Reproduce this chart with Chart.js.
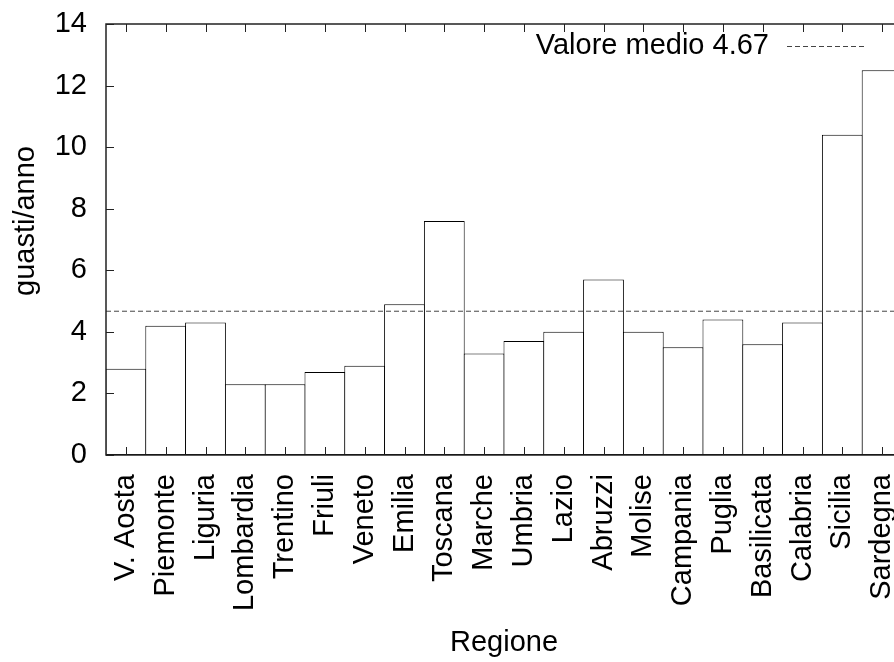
<!DOCTYPE html>
<html>
<head>
<meta charset="utf-8">
<script src="https://cdn.jsdelivr.net/npm/chart.js@4/dist/chart.umd.min.js"></script>
<style>
  html, body { margin: 0; padding: 0; background: #fff; overflow: hidden; }
  #box { width: 920px; height: 662px; }
</style>
</head>
<body>
<div id="box"><canvas id="myChart"></canvas></div>
<script>
// dati
const regioni = ['V. Aosta', 'Piemonte', 'Liguria', 'Lombardia', 'Trentino', 'Friuli', 'Veneto',
  'Emilia', 'Toscana', 'Marche', 'Umbria', 'Lazio', 'Abruzzi', 'Molise', 'Campania', 'Puglia',
  'Basilicata', 'Calabria', 'Sicilia', 'Sardegna'];
const guasti = [2.8, 4.2, 4.3, 2.3, 2.3, 2.7, 2.9, 4.9, 7.6, 3.3, 3.7, 4.0, 5.7, 4.0, 3.5, 4.4,
  3.6, 4.3, 10.4, 12.5];
const valoreMedio = 4.67;
const yTicks = [0, 2, 4, 6, 8, 10, 12, 14];

const FONT = 'Liberation Sans, Arial, Helvetica, sans-serif';
const FSIZE = 29;

// tacche interne, cornice, legenda e titolo asse y (stile gnuplot)
const cornice = {
  id: 'cornice',
  afterDatasetsDraw(chart) {
    const { ctx, chartArea: a, scales } = chart;
    const tl = 8;
    ctx.save();
    ctx.strokeStyle = '#222';
    ctx.lineWidth = 1;
    ctx.beginPath();
    regioni.forEach((r, i) => {
      const x = Math.round(scales.x.getPixelForValue(i)) + 0.5;
      ctx.moveTo(x, a.bottom); ctx.lineTo(x, a.bottom - tl);
      ctx.moveTo(x, a.top); ctx.lineTo(x, a.top + tl);
    });
    yTicks.forEach(v => {
      const y = Math.round(scales.y.getPixelForValue(v)) + 0.5;
      ctx.moveTo(a.left, y); ctx.lineTo(a.left + tl, y);
      ctx.moveTo(a.right, y); ctx.lineTo(a.right - tl, y);
    });
    ctx.stroke();
    ctx.lineWidth = 1.5;
    ctx.strokeRect(a.left, a.top, a.right - a.left, a.bottom - a.top);

    // legenda
    ctx.font = FSIZE + 'px ' + FONT;
    ctx.fillStyle = '#000';
    ctx.textAlign = 'right';
    ctx.textBaseline = 'middle';
    ctx.fillText('Valore medio ' + valoreMedio.toFixed(2), 769, 46);
    ctx.strokeStyle = '#444';
    ctx.lineWidth = 1;
    ctx.setLineDash([5, 3]);
    ctx.beginPath();
    ctx.moveTo(787, 46.5); ctx.lineTo(866, 46.5);
    ctx.stroke();
    ctx.setLineDash([]);

    // titolo asse y
    ctx.translate(26, 221);
    ctx.rotate(-Math.PI / 2);
    ctx.textAlign = 'center';
    ctx.fillText('guasti/anno', 0, 0);
    ctx.restore();
  }
};

const ctx = document.getElementById('myChart');
new Chart(ctx, {
  type: 'bar',
  data: {
    labels: regioni,
    datasets: [{
      type: 'bar',
      label: 'guasti/anno',
      data: guasti,
      backgroundColor: '#fff',
      borderColor: '#000',
      borderWidth: 1,
      borderSkipped: false,
      grouped: false,
      categoryPercentage: 1,
      barPercentage: 1.025,
      order: 2
    }, {
      type: 'line',
      label: 'Valore medio',
      xAxisID: 'x2',
      data: [{ x: -0.5, y: valoreMedio }, { x: regioni.length - 0.5, y: valoreMedio }],
      borderColor: '#444',
      borderWidth: 1,
      borderDash: [5, 3],
      pointRadius: 0,
      order: 1
    }]
  },
  options: {
    responsive: true,
    maintainAspectRatio: false,
    animation: false,
    layout: { padding: { top: 24, right: 18, bottom: 0, left: 0 } },
    plugins: { legend: { display: false }, tooltip: { enabled: false } },
    scales: {
      x: {
        type: 'category',
        offset: true,
        grid: { display: false, drawTicks: false },
        border: { display: false },
        ticks: {
          autoSkip: false, minRotation: 90, maxRotation: 90, padding: 19,
          color: '#000', font: { family: FONT, size: FSIZE }
        },
        title: {
          display: true, text: 'Regione', color: '#000',
          font: { family: FONT, size: FSIZE }, padding: { top: 0, bottom: 2 }
        },
        afterFit(s) { s.height = 207; s.paddingLeft = 0; s.paddingRight = 0; }
      },
      x2: {
        type: 'linear',
        display: false,
        offset: false,
        grid: { offset: false },
        min: -0.5,
        max: regioni.length - 0.5
      },
      y: {
        min: 0,
        max: 14,
        grid: { display: false, drawTicks: false },
        border: { display: false },
        afterBuildTicks(s) { s.ticks = yTicks.map(v => ({ value: v })); },
        ticks: { padding: 19, color: '#000', font: { family: FONT, size: FSIZE } },
        afterFit(s) { s.width = 106; s.paddingTop = 0; s.paddingBottom = 0; }
      }
    }
  },
  plugins: [cornice]
});
</script>
</body>
</html>
